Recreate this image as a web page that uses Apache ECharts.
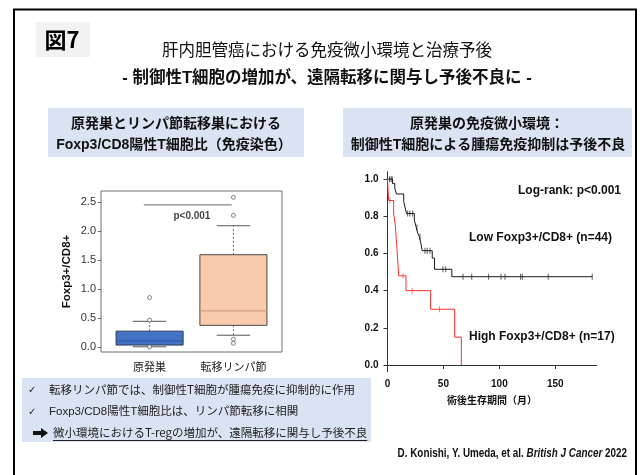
<!DOCTYPE html>
<html>
<head>
<meta charset="utf-8">
<script src="https://cdn.jsdelivr.net/npm/echarts@6/dist/echarts.min.js"></script>
<style>
  html, body { margin: 0; padding: 0; background: #fff; }
  #chart { width: 643px; height: 475px; }
</style>
</head>
<body>
<div id="chart"></div>
<script>
// ---- Box plot: Foxp3+/CD8+ ratio by site ----
const groups = ['原発巣', '転移リンパ節'];
const groupPos = [1, 2];
// [lower whisker, Q1, median, Q3, upper whisker]
const boxPrimary = [0.00, 0.03, 0.10, 0.27, 0.44];
const boxNode = [0.20, 0.37, 0.62, 1.59, 2.09];
const outliersPrimary = [0.00, 0.46, 0.85];
const outliersNode = [0.06, 0.13, 2.27, 2.58];
const boxTicks = [0, 0.5, 1.0, 1.5, 2.0, 2.5];
const sigSpan = [0.93, 1.98];
const sigLevel = 2.45;
const sigText = 'p<0.001';

// ---- Kaplan-Meier: overall survival by Foxp3+/CD8+ ----
const lowTimes = [0, 4.5, 6.5, 8, 14.5, 16, 17, 24, 25.7, 27, 28.5, 30, 31, 40, 42, 57.5, 183];
const lowSurv  = [1, 0.976, 0.952, 0.92, 0.88, 0.84, 0.815, 0.78, 0.74, 0.71, 0.69, 0.65, 0.615, 0.575, 0.515, 0.475, 0.475];
const lowCensor = [1.8, 3.2, 4.2, 18, 20, 22.5, 26.3, 29, 33.5, 35.5, 38, 49.5, 52, 67.5, 75.3, 90.4, 101.5, 105, 119, 120.5, 143.7, 183];
const highTimes = [0, 1, 5.5, 7, 8.5, 10, 16.5, 38.5, 60, 66];
const highSurv  = [1, 0.885, 0.815, 0.75, 0.62, 0.48, 0.40, 0.30, 0.15, 0];
const highCensor = [2, 14, 22, 46.5];
const kmXTicks = [0, 50, 100, 150];
const kmYTicks = [0, 0.2, 0.4, 0.6, 0.8, 1.0];

const JP = "'Noto Sans CJK JP', sans-serif";
const LAT = "'Liberation Sans', 'Noto Sans CJK JP', sans-serif";

const boxRows = [boxPrimary, boxNode].map((b, i) => [groupPos[i]].concat(b));
const outlierPts = outliersPrimary.map(v => [groupPos[0], v])
  .concat(outliersNode.map(v => [groupPos[1], v]));

const boxStyles = [
  { fill: '#4472c4', stroke: '#2e3a55', median: '#2a529c' },
  { fill: '#f8cbad', stroke: '#4a4a4a', median: '#d49e80' }
];

function renderBox(params, api) {
  const x = api.value(0);
  const lo = api.value(1), q1 = api.value(2), med = api.value(3), q3 = api.value(4), hi = api.value(5);
  const half = 0.4, cap = 0.2;
  const st = boxStyles[params.dataIndex];
  const c = (a, b) => api.coord([a, b]);
  const tl = c(x - half, q3), br = c(x + half, q1);
  const line = (p1, p2, style) => ({
    type: 'line', shape: { x1: p1[0], y1: p1[1], x2: p2[0], y2: p2[1] }, style: style
  });
  const dotted = { stroke: '#6a6a6a', lineWidth: 1, lineDash: [2, 2] };
  const solid = { stroke: '#555', lineWidth: 1 };
  return {
    type: 'group',
    children: [
      line(c(x, lo), c(x, q1), dotted),
      line(c(x, q3), c(x, hi), dotted),
      line(c(x - cap, lo), c(x + cap, lo), solid),
      line(c(x - cap, hi), c(x + cap, hi), solid),
      { type: 'rect', shape: { x: tl[0], y: tl[1], width: br[0] - tl[0], height: br[1] - tl[1] },
        style: { fill: st.fill, stroke: st.stroke, lineWidth: 1 } },
      line(c(x - half, med), c(x + half, med), { stroke: st.median, lineWidth: 1.2 })
    ]
  };
}

function survAt(times, surv, t) {
  let s = surv[0];
  for (let i = 0; i < times.length; i++) { if (times[i] <= t) s = surv[i]; }
  return s;
}
const zip = (a, b) => a.map((v, i) => [v, b[i]]);

// width of a text string, for the underline
function textWidth(str, font) {
  const ctx = document.createElement('canvas').getContext('2d');
  ctx.font = font;
  return ctx.measureText(str).width;
}

const chart = echarts.init(document.getElementById('chart'), null, { renderer: 'canvas' });

const note3 = '微小環境におけるT-regの増加が、遠隔転移に関与し予後不良';
const noteFont = '11.5px ' + JP;
const note3W = textWidth(note3, noteFont);

const graphics = [
  { type: 'rect', shape: { x: 14, y: 9.5, width: 622, height: 480 }, style: { fill: 'none', stroke: '#000', lineWidth: 2 }, z: 0 },
  { type: 'rect', shape: { x: 36, y: 22, width: 54, height: 35 }, style: { fill: '#f2f2f2' } },
  { type: 'text', x: 62, y: 40, style: { text: '図7', font: 'bold 22px ' + JP, fill: '#000', align: 'center', verticalAlign: 'middle' } },
  { type: 'text', x: 327, y: 50, style: { text: '肝内胆管癌における免疫微小環境と治療予後', font: '16.5px ' + JP, fill: '#111', align: 'center', verticalAlign: 'middle' } },
  { type: 'text', x: 327, y: 78, style: { text: '- 制御性T細胞の増加が、遠隔転移に関与し予後不良に -', font: 'bold 16.5px ' + LAT, fill: '#111', align: 'center', verticalAlign: 'middle' } },

  { type: 'rect', shape: { x: 48, y: 108, width: 256, height: 49 }, style: { fill: '#dae3f3' } },
  { type: 'text', x: 176, y: 123, style: { text: '原発巣とリンパ節転移巣における', font: 'bold 14px ' + JP, fill: '#111', align: 'center', verticalAlign: 'middle' } },
  { type: 'text', x: 174, y: 145, style: { text: 'Foxp3/CD8陽性T細胞比（免疫染色）', font: 'bold 14px ' + LAT, fill: '#111', align: 'center', verticalAlign: 'middle' } },

  { type: 'rect', shape: { x: 343, y: 108, width: 289, height: 49 }, style: { fill: '#dae3f3' } },
  { type: 'text', x: 487, y: 123, style: { text: '原発巣の免疫微小環境：', font: 'bold 14px ' + JP, fill: '#111', align: 'center', verticalAlign: 'middle' } },
  { type: 'text', x: 488, y: 145, style: { text: '制御性T細胞による腫瘍免疫抑制は予後不良', font: 'bold 14px ' + LAT, fill: '#111', align: 'center', verticalAlign: 'middle' } },

  { type: 'rect', shape: { x: 22, y: 378, width: 349, height: 64 }, style: { fill: '#dae3f3' } },
  { type: 'text', x: 28, y: 390, style: { text: '✓', font: '10px DejaVu Sans', fill: '#222', verticalAlign: 'middle' } },
  { type: 'text', x: 49, y: 390, style: { text: '転移リンパ節では、制御性T細胞が腫瘍免疫に抑制的に作用', font: noteFont, fill: '#222', verticalAlign: 'middle' } },
  { type: 'text', x: 28, y: 412, style: { text: '✓', font: '10px DejaVu Sans', fill: '#222', verticalAlign: 'middle' } },
  { type: 'text', x: 49, y: 412, style: { text: 'Foxp3/CD8陽性T細胞比は、リンパ節転移に相関', font: '11.5px ' + LAT, fill: '#222', verticalAlign: 'middle' } },
  { type: 'polygon', shape: { points: [[33, 431], [41, 431], [41, 428], [48, 433], [41, 438], [41, 435], [33, 435]] }, style: { fill: '#111' } },
  { type: 'text', x: 53, y: 433, style: { text: note3, font: noteFont, fill: '#222', verticalAlign: 'middle' } },
  { type: 'line', shape: { x1: 53, y1: 440.5, x2: 53 + note3W, y2: 440.5 }, style: { stroke: '#222', lineWidth: 1 } },

  { type: 'text', x: 627, y: 454, scaleX: 0.79,
    style: { text: '{a|D. Konishi, Y. Umeda, et al. }{b|British J Cancer}{a| 2022}',
      align: 'right', verticalAlign: 'middle',
      rich: { a: { font: 'bold 12.5px ' + LAT, fill: '#111' }, b: { font: 'italic bold 12.5px ' + LAT, fill: '#111' } } } },

  { type: 'text', x: 518, y: 191, style: { text: 'Log-rank: p<0.001', font: 'bold 12px ' + LAT, fill: '#111', verticalAlign: 'middle' } },
  { type: 'text', x: 469, y: 238, style: { text: 'Low Foxp3+/CD8+ (n=44)', font: 'bold 12px ' + LAT, fill: '#111', verticalAlign: 'middle' } },
  { type: 'text', x: 469, y: 337, style: { text: 'High Foxp3+/CD8+ (n=17)', font: 'bold 12px ' + LAT, fill: '#111', verticalAlign: 'middle' } }
];

const option = {
  animation: false,
  backgroundColor: '#fff',
  graphic: graphics,
  grid: [
    { left: 101, top: 191, width: 181, height: 161, show: true, borderColor: '#707070', borderWidth: 1, containLabel: false },
    { left: 387.5, top: 171.7, width: 209.2, height: 200, containLabel: false }
  ],
  xAxis: [
    {
      gridIndex: 0, type: 'value', min: 0.42, max: 2.58,
      axisLine: { show: false }, axisTick: { show: false }, splitLine: { show: false },
      axisLabel: { customValues: groupPos, formatter: v => groups[groupPos.indexOf(v)] || '',
        margin: 9, fontSize: 11, fontFamily: JP, color: '#222' }
    },
    {
      gridIndex: 1, type: 'value', min: 0, max: 187,
      axisLine: { show: true, lineStyle: { color: '#333', width: 1 } },
      axisTick: { show: true, customValues: kmXTicks, length: 4, lineStyle: { color: '#333' } },
      splitLine: { show: false },
      axisLabel: { customValues: kmXTicks, margin: 8, fontSize: 10, fontWeight: 'bold', fontFamily: LAT, color: '#111' },
      name: '術後生存期間（月）', nameLocation: 'middle', nameGap: 24,
      nameTextStyle: { fontSize: 10, fontWeight: 'bold', fontFamily: JP, color: '#111' }
    }
  ],
  yAxis: [
    {
      gridIndex: 0, type: 'value', min: -0.09, max: 2.69,
      axisLine: { show: false }, splitLine: { show: false },
      axisTick: { show: true, customValues: boxTicks, length: 3, lineStyle: { color: '#666' } },
      axisLabel: { customValues: boxTicks, formatter: v => v.toFixed(1), margin: 5, fontSize: 11, fontFamily: LAT, color: '#333' },
      name: 'Foxp3+/CD8+', nameLocation: 'middle', nameGap: 28,
      nameTextStyle: { fontSize: 11.5, fontWeight: 'bold', fontFamily: LAT, color: '#111' }
    },
    {
      gridIndex: 1, type: 'value', min: -0.036, max: 1.04,
      axisLine: { show: true, lineStyle: { color: '#333', width: 1 } }, splitLine: { show: false },
      axisTick: { show: true, customValues: kmYTicks, length: 4, lineStyle: { color: '#333' } },
      axisLabel: { customValues: kmYTicks, formatter: v => v.toFixed(1), margin: 9, fontSize: 10, fontWeight: 'bold', fontFamily: LAT, color: '#111' }
    }
  ],
  series: [
    { type: 'custom', xAxisIndex: 0, yAxisIndex: 0, renderItem: renderBox, data: boxRows,
      encode: { x: 0, y: [1, 2, 3, 4, 5] }, z: 2 },
    { type: 'scatter', xAxisIndex: 0, yAxisIndex: 0, data: outlierPts, symbol: 'circle', symbolSize: 4,
      itemStyle: { color: '#fff', borderColor: '#555', borderWidth: 0.9 }, z: 3 },
    { type: 'line', xAxisIndex: 0, yAxisIndex: 0, data: [[sigSpan[0], sigLevel], [sigSpan[1], sigLevel]],
      symbol: 'none', lineStyle: { color: '#6a6a6a', width: 1 } },
    { type: 'scatter', xAxisIndex: 0, yAxisIndex: 0, data: [[(sigSpan[0] + sigSpan[1]) / 2 + 0.05, 2.26]], symbolSize: 0,
      label: { show: true, position: 'inside', formatter: sigText, fontSize: 10, fontWeight: 'bold', fontFamily: LAT, color: '#111' } },

    { type: 'line', xAxisIndex: 1, yAxisIndex: 1, data: zip(lowTimes, lowSurv), step: 'end', symbol: 'none',
      lineStyle: { color: '#1a1a1a', width: 1 } },
    { type: 'line', xAxisIndex: 1, yAxisIndex: 1, data: zip(highTimes, highSurv), step: 'end', symbol: 'none',
      lineStyle: { color: '#ff2e2e', width: 1 } },
    { type: 'scatter', xAxisIndex: 1, yAxisIndex: 1, data: lowCensor.map(t => [t, survAt(lowTimes, lowSurv, t)]),
      symbol: 'rect', symbolSize: [1, 6], itemStyle: { color: '#333' } },
    { type: 'scatter', xAxisIndex: 1, yAxisIndex: 1, data: highCensor.map(t => [t, survAt(highTimes, highSurv, t)]),
      symbol: 'rect', symbolSize: [1, 6], itemStyle: { color: '#ff5a5a' } }
  ]
};

chart.setOption(option);
</script>
</body>
</html>
